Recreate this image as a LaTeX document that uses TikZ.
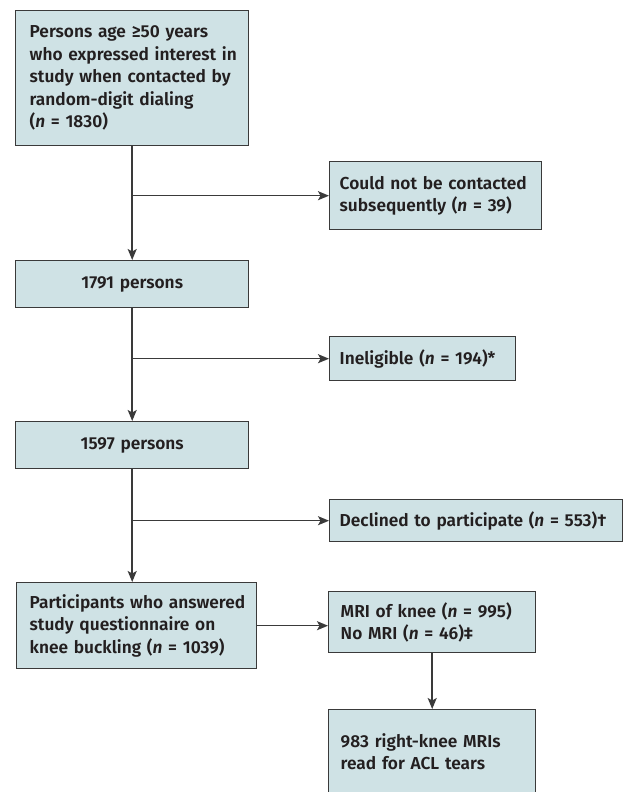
\documentclass[tikz,border=0pt]{standalone}
\usepackage{fontspec}
\setmainfont{Fira Sans}[UprightFont={* SemiBold}, ItalicFont={* SemiBold Italic}]
\usetikzlibrary{arrows.meta}
\definecolor{boxfill}{HTML}{CFE2E5}
\definecolor{boxline}{HTML}{3A3A3A}
\definecolor{txt}{HTML}{231F20}
\tikzset{
  flowbox/.style={draw=boxline, line width=1.4pt, fill=boxfill, text=txt,
    font=\fontsize{17.3}{22.5}\selectfont, anchor=north west,
    inner xsep=#1, inner ysep=0pt, align=left},
  flowbox/.default=11pt,
  conn/.style={draw=boxline, line width=1.5pt},
  arr/.style={conn, -{Stealth[length=11pt, width=9pt, inset=2.5pt]}}
}
\begin{document}
\begin{tikzpicture}[x=1pt, y=-1pt]
\useasboundingbox[fill=white] (0,0) rectangle (624,792);
\node[flowbox=14pt, text width=205pt, minimum height=135pt] (top) at (15,10)
  {\mbox{Persons age ≥50 years}\\\mbox{who expressed interest in}\\\mbox{study when contacted by}\\\mbox{random-digit dialing}\\\mbox{(\textit{n} = 1830)}};
\node[flowbox=10pt, text width=192pt, minimum height=68pt] (could) at (329,161)
  {\mbox{Could not be contacted}\\\mbox{subsequently (\textit{n} = 39)}};
\node[flowbox=0pt, align=center, text width=233pt, minimum height=47pt] (p1791) at (15,260)
  {1791 persons};
\node[flowbox=10pt, text width=166pt, minimum height=44pt] (inel) at (329,336)
  {\mbox{Ineligible (\textit{n} = 194)*}};
\node[flowbox=0pt, align=center, text width=233pt, minimum height=47pt] (p1597) at (15,421)
  {1597 persons};
\node[flowbox=10pt, text width=273pt, minimum height=42pt] (decl) at (329,499)
  {\mbox{Declined to participate (\textit{n} = 553)†}};
\node[flowbox=13pt, text width=214pt, minimum height=86pt] (part) at (16,582)
  {\mbox{Participants who answered}\\\mbox{study questionnaire on}\\\mbox{knee buckling (\textit{n} = 1039)}};
\node[flowbox=12pt, text width=183pt, minimum height=61pt] (mri) at (328,591)
  {\mbox{MRI of knee (\textit{n} = 995)}\\\mbox{No MRI (\textit{n} = 46)‡}};
\node[flowbox=12pt, text width=183pt, minimum height=84pt] (acl) at (328,709)
  {\mbox{983 right-knee MRIs}\\\mbox{read for ACL tears}};

\draw[arr] (top.south) -- (p1791.north);
\draw[arr] (top.south |- could.west) -- (could.west);
\draw[arr] (p1791.south) -- (p1597.north);
\draw[arr] (p1791.south |- inel.west) -- (inel.west);
\draw[arr] (p1597.south) -- (p1597.south |- part.north);
\draw[arr] (p1597.south |- decl.west) -- (decl.west);
\draw[arr] (part.east) -- (part.east -| mri.west);
\draw[arr] (mri.south) -- (acl.north);
\end{tikzpicture}
\end{document}
